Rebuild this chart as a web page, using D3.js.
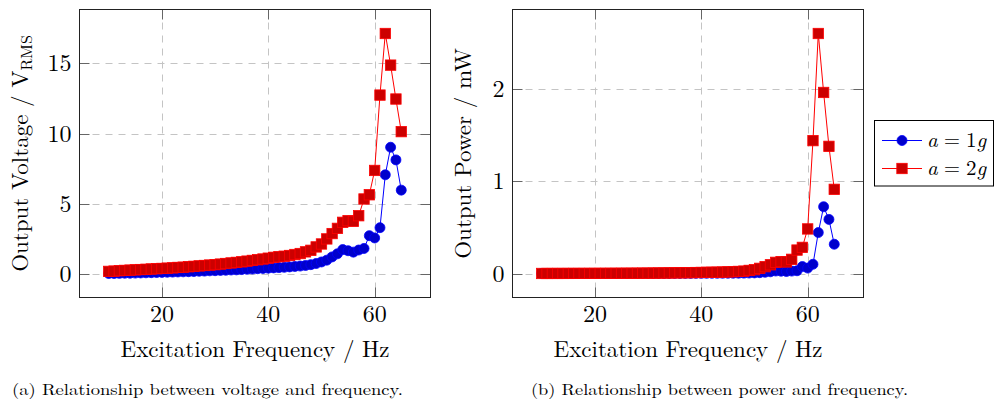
<!DOCTYPE html>
<html>
<head>
<meta charset="utf-8">
<script src="https://cdn.jsdelivr.net/npm/d3@7"></script>
<style>
  body { margin: 0; background: #fff; }
</style>
</head>
<body>
<div id="chart"></div>
<script>
// excitation frequency (Hz)
var freq = [10, 11, 12, 13, 14, 15, 16, 17, 18, 19,
            20, 21, 22, 23, 24, 25, 26, 27, 28, 29,
            30, 31, 32, 33, 34, 35, 36, 37, 38, 39,
            40, 41, 42, 43, 44, 45, 46, 47, 48, 49,
            50, 51, 52, 53, 54, 55, 56, 57, 58, 59,
            60, 61, 62, 63, 64, 65];

// output voltage, V_RMS
var volt1g = [0.05, 0.05, 0.06, 0.07, 0.07, 0.08, 0.09, 0.10, 0.11, 0.12,
              0.13, 0.14, 0.15, 0.16, 0.17, 0.18, 0.19, 0.21, 0.22, 0.24,
              0.25, 0.27, 0.28, 0.30, 0.31, 0.33, 0.35, 0.37, 0.39, 0.41,
              0.43, 0.45, 0.47, 0.49, 0.52, 0.55, 0.58, 0.62, 0.68, 0.76,
              0.87, 1.00, 1.23, 1.45, 1.75, 1.67, 1.57, 1.72, 1.83, 2.74,
              2.58, 3.31, 7.07, 9.03, 8.13, 5.98];
var volt2g = [0.20, 0.22, 0.25, 0.27, 0.29, 0.31, 0.33, 0.35, 0.37, 0.39,
              0.41, 0.43, 0.45, 0.48, 0.50, 0.53, 0.56, 0.59, 0.62, 0.65,
              0.68, 0.72, 0.76, 0.80, 0.84, 0.88, 0.93, 0.98, 1.03, 1.08,
              1.14, 1.20, 1.24, 1.28, 1.33, 1.40, 1.47, 1.59, 1.70, 1.94,
              2.15, 2.51, 2.89, 3.26, 3.69, 3.81, 3.76, 4.16, 5.35, 5.65,
              7.38, 12.74, 17.12, 14.87, 12.46, 10.14];

// output power, mW
var power1g = [0.00002, 0.00002, 0.00003, 0.00004, 0.00004, 0.00006, 0.00007, 0.00009, 0.00011, 0.00013,
               0.00015, 0.00017, 0.0002, 0.00023, 0.00026, 0.00029, 0.00032, 0.00039, 0.00043, 0.00051,
               0.00055, 0.00065, 0.0007, 0.0008, 0.00085, 0.00097, 0.0011, 0.0012, 0.0013, 0.0015,
               0.0016, 0.0018, 0.002, 0.0021, 0.0024, 0.0027, 0.003, 0.0034, 0.0041, 0.0051,
               0.0067, 0.0089, 0.0134, 0.0187, 0.0272, 0.0247, 0.0219, 0.0263, 0.0297, 0.075,
               0.0591, 0.10, 0.4435, 0.7235, 0.5865, 0.3173];
var power2g = [0.0004, 0.0004, 0.0006, 0.0006, 0.0007, 0.0009, 0.0010, 0.0011, 0.0012, 0.0013,
               0.0015, 0.0016, 0.0018, 0.0020, 0.0022, 0.0025, 0.0028, 0.0031, 0.0034, 0.0037,
               0.0041, 0.0046, 0.0051, 0.0057, 0.0063, 0.0069, 0.0077, 0.0085, 0.0094, 0.0103,
               0.0115, 0.0128, 0.0136, 0.0145, 0.0157, 0.0174, 0.0192, 0.0224, 0.0256, 0.0334,
               0.0410, 0.0559, 0.0741, 0.0943, 0.1208, 0.1288, 0.1254, 0.1536, 0.254, 0.283,
               0.483, 1.440, 2.601, 1.962, 1.378, 0.912];

var xTicks = [20, 40, 60];
var voltTicks = [0, 5, 10, 15];
var powerTicks = [0, 1, 2];
var seriesNames = ["1", "2"];

var blue = {line: "#0000ff", fill: "#0000cc"},
    red = {line: "#ff0000", fill: "#cc0000"};

var FONT = "Latin Modern Roman";

var svg = d3.select("#chart").append("svg")
    .attr("width", 995)
    .attr("height", 404);

svg.append("rect").attr("width", 995).attr("height", 404).attr("fill", "#fff");

// pgfplots style: pad data range by 10% on each side
function enlarge(ext) {
  var r = ext[1] - ext[0];
  return [ext[0] - 0.1 * r, ext[1] + 0.1 * r];
}

function drawPanel(box, ys, yTicks, yLabelParts, yLabelX, caption, captionX, captionLen) {
  var x = d3.scaleLinear()
      .domain(enlarge(d3.extent(freq)))
      .range([box.left, box.right]);

  var y = d3.scaleLinear()
      .domain(enlarge(d3.extent(ys[0].concat(ys[1]))))
      .range([box.bottom, box.top]);

  var g = svg.append("g");

  // dashed grid
  g.selectAll("line.gx")
    .data(xTicks)
    .enter().append("line")
      .attr("class", "gx")
      .attr("x1", function(d) { return Math.round(x(d)) + 0.5; })
      .attr("x2", function(d) { return Math.round(x(d)) + 0.5; })
      .attr("y1", box.top)
      .attr("y2", box.bottom)
      .attr("stroke", "#c4c4c4")
      .attr("stroke-dasharray", "7,6");

  g.selectAll("line.gy")
    .data(yTicks)
    .enter().append("line")
      .attr("class", "gy")
      .attr("y1", function(d) { return Math.round(y(d)) + 0.5; })
      .attr("y2", function(d) { return Math.round(y(d)) + 0.5; })
      .attr("x1", box.left)
      .attr("x2", box.right)
      .attr("stroke", "#c4c4c4")
      .attr("stroke-dasharray", "7,6");

  // inward tick marks on all four sides
  var tl = 10;
  xTicks.forEach(function(t) {
    var px = Math.round(x(t)) + 0.5;
    g.append("line").attr("x1", px).attr("x2", px).attr("y1", box.bottom).attr("y2", box.bottom - tl)
      .attr("stroke", "#666");
    g.append("line").attr("x1", px).attr("x2", px).attr("y1", box.top).attr("y2", box.top + tl)
      .attr("stroke", "#666");
  });
  yTicks.forEach(function(t) {
    var py = Math.round(y(t)) + 0.5;
    g.append("line").attr("y1", py).attr("y2", py).attr("x1", box.left).attr("x2", box.left + tl)
      .attr("stroke", "#666");
    g.append("line").attr("y1", py).attr("y2", py).attr("x1", box.right).attr("x2", box.right - tl)
      .attr("stroke", "#666");
  });

  // tick labels
  g.selectAll("text.xt")
    .data(xTicks)
    .enter().append("text")
      .attr("class", "xt")
      .attr("x", function(d) { return x(d); })
      .attr("y", box.bottom + 24)
      .attr("text-anchor", "middle")
      .attr("font-family", FONT)
      .attr("font-size", 24)
      .text(function(d) { return d; });

  g.selectAll("text.yt")
    .data(yTicks)
    .enter().append("text")
      .attr("class", "yt")
      .attr("x", box.left - 8)
      .attr("y", function(d) { return y(d) + 8; })
      .attr("text-anchor", "end")
      .attr("font-family", FONT)
      .attr("font-size", 24)
      .text(function(d) { return d; });

  // series: 1g blue circles, then 2g red squares on top
  var line = d3.line()
      .x(function(d, i) { return x(freq[i]); })
      .y(function(d) { return y(d); });

  var cols = [blue, red];
  ys.forEach(function(vals, k) {
    g.append("path")
      .datum(vals)
      .attr("d", line)
      .attr("fill", "none")
      .attr("stroke", cols[k].line)
      .attr("stroke-width", 1);

    if (k === 0) {
      g.selectAll("circle.m")
        .data(vals)
        .enter().append("circle")
          .attr("cx", function(d, i) { return x(freq[i]); })
          .attr("cy", function(d) { return y(d); })
          .attr("r", 5)
          .attr("fill", cols[k].fill)
          .attr("stroke", cols[k].line)
          .attr("stroke-width", 0.8);
    } else {
      g.selectAll("rect.m")
        .data(vals)
        .enter().append("rect")
          .attr("x", function(d, i) { return x(freq[i]) - 5.2; })
          .attr("y", function(d) { return y(d) - 5.2; })
          .attr("width", 10.4)
          .attr("height", 10.4)
          .attr("fill", cols[k].fill)
          .attr("stroke", cols[k].line)
          .attr("stroke-width", 0.8);
    }
  });

  // axis box
  g.append("rect")
    .attr("x", box.left)
    .attr("y", box.top)
    .attr("width", box.right - box.left)
    .attr("height", box.bottom - box.top)
    .attr("fill", "none")
    .attr("stroke", "#222")
    .attr("stroke-width", 1);

  // axis labels
  g.append("text")
    .attr("x", (box.left + box.right) / 2)
    .attr("y", 357)
    .attr("text-anchor", "middle")
    .attr("font-family", FONT)
    .attr("font-size", 23)
    .text("Excitation Frequency / Hz");

  var yl = g.append("text")
    .attr("transform", "translate(" + yLabelX + "," + ((box.top + box.bottom) / 2) + ") rotate(-90)")
    .attr("text-anchor", "middle")
    .attr("font-family", FONT)
    .attr("font-size", 23);
  yLabelParts.forEach(function(p) {
    var ts = yl.append("tspan").text(p.t);
    if (p.sub) ts.attr("font-size", 16).attr("dy", 4);
  });

  // caption
  svg.append("text")
    .attr("x", captionX)
    .attr("y", 395)
    .attr("textLength", captionLen)
    .attr("lengthAdjust", "spacingAndGlyphs")
    .attr("font-family", FONT)
    .attr("font-size", 16)
    .text(caption);
}

drawPanel({left: 79.5, right: 430.5, top: 9.5, bottom: 297.5},
  [volt1g, volt2g], voltTicks,
  [{t: "Output Voltage / V"}, {t: "RMS", sub: true}], 28,
  "(a) Relationship between voltage and frequency.", 12, 391);

drawPanel({left: 512.5, right: 863.5, top: 9.5, bottom: 297.5},
  [power1g, power2g], powerTicks,
  [{t: "Output Power / mW"}], 471,
  "(b) Relationship between power and frequency.", 531, 377);

// legend
var leg = svg.append("g");
leg.append("rect")
  .attr("x", 874.5)
  .attr("y", 120.5)
  .attr("width", 119)
  .attr("height", 65.5)
  .attr("fill", "#fff")
  .attr("stroke", "#000");

[blue, red].forEach(function(c, k) {
  var cy = k === 0 ? 140.5 : 168.5;
  leg.append("line")
    .attr("x1", 882).attr("x2", 922)
    .attr("y1", cy).attr("y2", cy)
    .attr("stroke", c.line);
  if (k === 0) {
    leg.append("circle").attr("cx", 902).attr("cy", cy).attr("r", 5)
      .attr("fill", c.fill).attr("stroke", c.line).attr("stroke-width", 0.8);
  } else {
    leg.append("rect").attr("x", 896.8).attr("y", cy - 5.2).attr("width", 10.4).attr("height", 10.4)
      .attr("fill", c.fill).attr("stroke", c.line).attr("stroke-width", 0.8);
  }
  var t = leg.append("text")
    .attr("x", 927)
    .attr("y", cy + 6)
    .attr("font-family", FONT)
    .attr("font-size", 21);
  t.append("tspan").attr("font-style", "italic").text("a");
  t.append("tspan").attr("dx", 6).text("=");
  t.append("tspan").attr("dx", 6).text(seriesNames[k]);
  t.append("tspan").attr("font-style", "italic").text("g");
});
</script>
</body>
</html>
